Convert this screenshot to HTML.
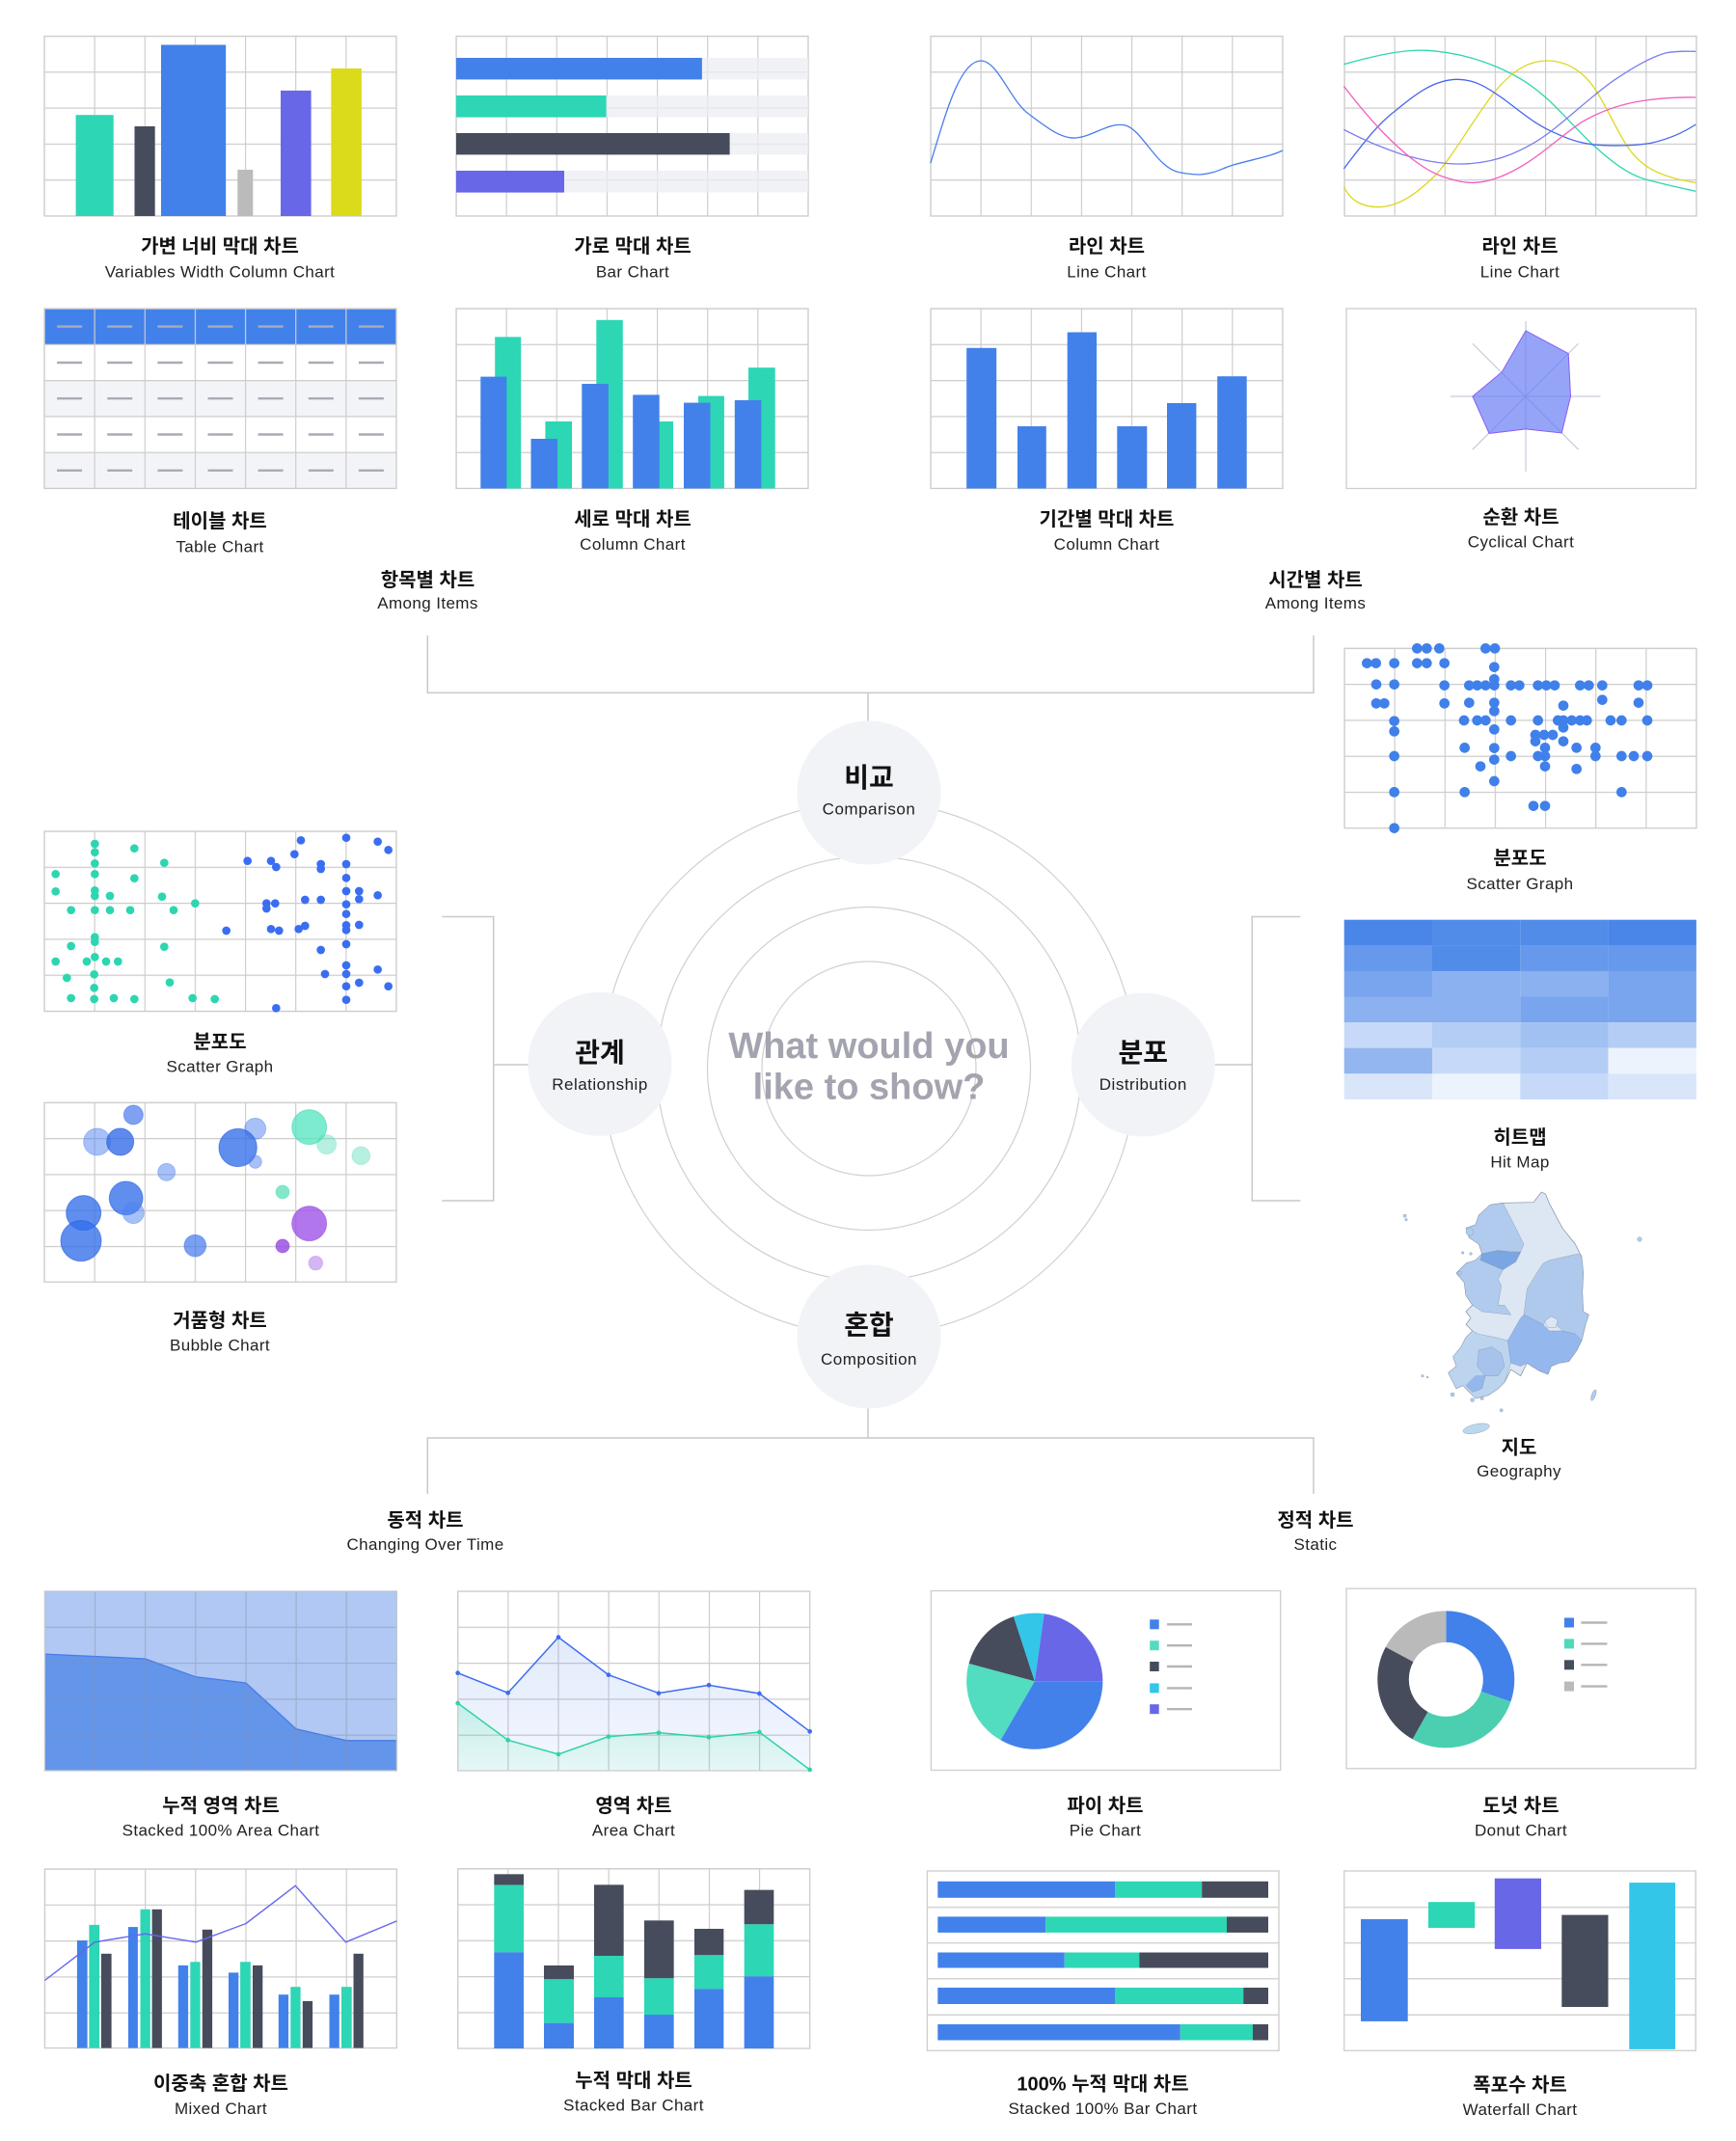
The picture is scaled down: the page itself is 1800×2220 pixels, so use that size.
<!DOCTYPE html>
<html><head><meta charset="utf-8">
<style>
html,body{margin:0;padding:0;background:#fff;}
svg{display:block;}
.k{font-family:"Liberation Sans","Noto Sans CJK KR",sans-serif;font-weight:700;font-size:20px;fill:#111;text-anchor:middle;}
.e{font-family:"Liberation Sans","Noto Sans CJK KR",sans-serif;font-size:17px;fill:#222;text-anchor:middle;letter-spacing:0.4px;}
.nk{font-family:"Liberation Sans","Noto Sans CJK KR",sans-serif;font-weight:700;font-size:28px;fill:#111;text-anchor:middle;}
.ne{font-family:"Liberation Sans","Noto Sans CJK KR",sans-serif;font-size:17px;fill:#222;text-anchor:middle;letter-spacing:0.5px;}
.ct{font-family:"Liberation Sans",sans-serif;font-weight:700;font-size:38px;fill:#a3a4af;text-anchor:middle;}
</style></head>
<body>
<svg width="1800" height="2220" viewBox="0 0 1800 2220" xmlns="http://www.w3.org/2000/svg">
<defs>
<pattern id="g" x="-0.6" y="-0.6" width="52.143" height="37.3" patternUnits="userSpaceOnUse"><path d="M0 0H53M0 0V38" stroke="#cdcdcd" stroke-width="2.4" fill="none"/></pattern>
<pattern id="g2" x="-0.6" y="-0.6" width="52.143" height="37.3" patternUnits="userSpaceOnUse"><path d="M0 0H53M0 0V38" stroke="rgba(140,140,160,0.45)" stroke-width="2.4" fill="none"/></pattern>
<linearGradient id="ab" x1="0" y1="0" x2="0" y2="1"><stop offset="0" stop-color="#e2ebfc"/><stop offset="1" stop-color="#f3f7fe"/></linearGradient>
<linearGradient id="at" x1="0" y1="0" x2="0" y2="1"><stop offset="0" stop-color="#c5eee8"/><stop offset="1" stop-color="#e6f7f7"/></linearGradient>
</defs>

<!-- ============ TOP ROW ============ -->
<!-- A: variable width column -->
<g transform="translate(46,37.5)"><rect width="365" height="186.5" fill="url(#g)"/><rect width="365" height="186.5" fill="none" stroke="#cdcdcd" stroke-width="1.3"/></g>
<rect x="78.6" y="119.2" width="39.1" height="104.8" fill="#2dd6b4"/>
<rect x="139.5" y="131" width="21.2" height="93" fill="#474c5c"/>
<rect x="167" y="46.5" width="67.2" height="177.5" fill="#4281ea"/>
<rect x="246.3" y="176" width="16" height="48" fill="#bbbbbb"/>
<rect x="291" y="93.9" width="31.6" height="130.1" fill="#6767e8"/>
<rect x="343.3" y="71" width="31.6" height="153" fill="#dbdb1c"/>
<text class="k" x="228" y="262">가변 너비 막대 차트</text>
<text class="e" x="228" y="287.5">Variables Width Column Chart</text>

<!-- B: bar chart -->
<g transform="translate(473,37.5)"><rect width="365" height="186.5" fill="url(#g)"/><rect width="365" height="186.5" fill="none" stroke="#cdcdcd" stroke-width="1.3"/></g>
<g fill="rgba(236,238,243,0.75)">
<rect x="473" y="60" width="365" height="22.4"/><rect x="473" y="99" width="365" height="22.6"/><rect x="473" y="138" width="365" height="22.4"/><rect x="473" y="177" width="365" height="22.6"/>
</g>
<rect x="473" y="60" width="254.9" height="22.4" fill="#4281ea"/>
<rect x="473" y="99" width="155.6" height="22.6" fill="#2dd6b4"/>
<rect x="473" y="138" width="283.6" height="22.4" fill="#474c5c"/>
<rect x="473" y="177" width="112" height="22.6" fill="#6767e8"/>
<text class="k" x="656" y="262">가로 막대 차트</text>
<text class="e" x="656" y="287.5">Bar Chart</text>

<!-- C: line chart -->
<g transform="translate(965,37.5)"><rect width="365" height="186.5" fill="url(#g)"/><rect width="365" height="186.5" fill="none" stroke="#cdcdcd" stroke-width="1.3"/></g>
<path d="M964.9,169 C980,120 995,62 1017.7,63 C1035,64 1048,105 1066.5,118 C1085,132 1100,144 1115.3,143 C1135,141 1150,126 1167,130 C1185,135 1200,176 1224.3,179 C1235,181 1240,181 1244.4,181 C1260,180 1268,174 1278.9,171 C1300,165 1318,162 1330,156" fill="none" stroke="#4a7cf0" stroke-width="1.3"/>
<text class="k" x="1147.5" y="262">라인 차트</text>
<text class="e" x="1147.5" y="287.5">Line Chart</text>

<!-- D: multi line chart -->
<g transform="translate(1394,37.5)"><rect width="365" height="186.5" fill="url(#g)"/><rect width="365" height="186.5" fill="none" stroke="#cdcdcd" stroke-width="1.3"/></g>
<g transform="translate(1380,20) scale(0.33333)" fill="none" stroke-width="3.9">
<path d="M40,140 C120,118 220,92 300,97 C380,102 450,120 520,150 C590,180 630,210 670,245 C720,290 770,350 820,395 C870,440 920,480 975,497 C1040,515 1090,525 1135,535" stroke="#2fd6b0"/>
<path d="M40,520 C60,565 100,585 150,584 C220,582 280,530 330,480 C390,410 450,300 510,225 C560,165 610,130 670,129 C740,128 790,170 820,215 C860,275 890,350 925,400 C960,450 1010,490 1135,508" stroke="#dcd820"/>
<path d="M40,465 C90,400 140,330 200,285 C260,235 320,187 395,187 C450,187 490,215 540,250 C600,295 640,330 700,355 C750,378 790,390 850,392 C900,394 960,392 1000,384 C1060,370 1100,350 1135,327" stroke="#4466ee"/>
<path d="M40,343 C100,375 160,400 220,420 C290,440 340,450 400,450 C460,450 510,440 560,420 C620,395 660,370 720,320 C780,270 830,225 880,190 C940,150 990,120 1040,105 C1080,97 1110,100 1135,100" stroke="#7a7ef0"/>
<path d="M40,208 C80,260 120,310 170,360 C230,420 290,470 350,490 C390,503 420,510 450,508 C500,505 560,480 620,440 C680,400 720,360 780,320 C840,285 900,265 960,255 C1020,245 1080,242 1135,243" stroke="#f060c0"/>
</g>
<text class="k" x="1576" y="262">라인 차트</text>
<text class="e" x="1576" y="287.5">Line Chart</text>

<!-- ============ ROW 2 ============ -->
<!-- Table chart -->
<rect x="46" y="320" width="365" height="37.3" fill="#4281ea"/>
<rect x="46" y="394.6" width="365" height="37.3" fill="#f3f4f8"/>
<rect x="46" y="469.2" width="365" height="37.3" fill="#f3f4f8"/>
<g transform="translate(46,320)"><rect width="365" height="186.5" fill="url(#g)"/><rect width="365" height="186.5" fill="none" stroke="#cdcdcd" stroke-width="1.3"/></g>
<g stroke="#a9acb6" stroke-width="2.4">
<path d="M59.1,338.6h26M111.2,338.6h26M163.4,338.6h26M215.5,338.6h26M267.6,338.6h26M319.8,338.6h26M371.9,338.6h26"/>
<path d="M59.1,376h26M111.2,376h26M163.4,376h26M215.5,376h26M267.6,376h26M319.8,376h26M371.9,376h26"/>
<path d="M59.1,413.2h26M111.2,413.2h26M163.4,413.2h26M215.5,413.2h26M267.6,413.2h26M319.8,413.2h26M371.9,413.2h26"/>
<path d="M59.1,450.5h26M111.2,450.5h26M163.4,450.5h26M215.5,450.5h26M267.6,450.5h26M319.8,450.5h26M371.9,450.5h26"/>
<path d="M59.1,487.8h26M111.2,487.8h26M163.4,487.8h26M215.5,487.8h26M267.6,487.8h26M319.8,487.8h26M371.9,487.8h26"/>
</g>
<text class="k" x="228" y="547">테이블 차트</text>
<text class="e" x="228" y="572.5">Table Chart</text>

<!-- Column chart (pairs) -->
<g transform="translate(473,320)"><rect width="365" height="186.5" fill="url(#g)"/><rect width="365" height="186.5" fill="none" stroke="#cdcdcd" stroke-width="1.3"/></g>
<g fill="#2dd6b4">
<rect x="513.2" y="349.4" width="27" height="157.1"/>
<rect x="565.4" y="437" width="27.6" height="69.5"/>
<rect x="618.3" y="331.8" width="27.5" height="174.7"/>
<rect x="671" y="437" width="27" height="69.5"/>
<rect x="724" y="410.6" width="26.9" height="95.9"/>
<rect x="776" y="381.2" width="27.7" height="125.3"/>
</g>
<g fill="#4281ea">
<rect x="498.3" y="390.6" width="27" height="115.9"/>
<rect x="550.5" y="455" width="27.5" height="51.5"/>
<rect x="603.3" y="398" width="27.6" height="108.5"/>
<rect x="656.2" y="409.4" width="27.5" height="97.1"/>
<rect x="709" y="417.6" width="27.5" height="88.9"/>
<rect x="761.8" y="415" width="27.5" height="91.5"/>
</g>
<text class="k" x="656" y="545">세로 막대 차트</text>
<text class="e" x="656" y="570">Column Chart</text>

<!-- Period column chart -->
<g transform="translate(965,320)"><rect width="365" height="186.5" fill="url(#g)"/><rect width="365" height="186.5" fill="none" stroke="#cdcdcd" stroke-width="1.3"/></g>
<g fill="#4281ea">
<rect x="1002.2" y="360.8" width="31" height="145.7"/>
<rect x="1055" y="442" width="29.8" height="64.5"/>
<rect x="1106.7" y="344.5" width="30.4" height="162"/>
<rect x="1158.3" y="442" width="31" height="64.5"/>
<rect x="1210" y="418" width="30.4" height="88.5"/>
<rect x="1262.2" y="390.2" width="30.5" height="116.3"/>
</g>
<text class="k" x="1147.5" y="545">기간별 막대 차트</text>
<text class="e" x="1147.5" y="570">Column Chart</text>

<!-- Radar -->
<rect x="1396" y="320" width="362.5" height="186.5" fill="#fff" stroke="#cdcdcd" stroke-width="1.3"/>
<g stroke="#b8c2d8" stroke-width="1">
<path d="M1504,411H1659.5M1582,333V489M1526.9,356.3L1636.5,466.1M1636.5,356.3L1526.9,466.1"/>
</g>
<polygon points="1582,342.9 1626.2,366.5 1628.5,411 1619.3,449 1582,444.9 1544.1,449.4 1526.9,411 1557.3,385.7" fill="rgba(105,125,245,0.7)" stroke="#8b5cf6" stroke-width="1"/>
<text class="k" x="1577" y="543">순환 차트</text>
<text class="e" x="1577" y="567.5">Cyclical Chart</text>

<!-- group labels top -->
<text class="k" x="443.5" y="608">항목별 차트</text>
<text class="e" x="443.5" y="631">Among Items</text>
<text class="k" x="1364" y="608">시간별 차트</text>
<text class="e" x="1364" y="631">Among Items</text>

<!-- ============ CONNECTORS ============ -->
<g fill="none" stroke="#c9c9c9" stroke-width="1.5">
<path d="M443.3,659V718.4H1362V659M900,718.4V750"/>
<path d="M443.3,1549V1491H1362V1549M900,1458V1491"/>
<path d="M458.3,950.5H511.7V1245H458.3M511.7,1104H550"/>
<path d="M1348.3,950.5H1298.3V1245H1348.3M1257,1104H1298.3"/>
</g>
<!-- rings -->
<g fill="none" stroke="#d0d0d0" stroke-width="1.2">
<circle cx="901" cy="1108" r="111"/>
<circle cx="901" cy="1108" r="167.5"/>
<circle cx="901" cy="1108" r="220"/>
<circle cx="901" cy="1108" r="277"/>
</g>
<g fill="#f2f3f7">
<circle cx="901" cy="822" r="74.5"/>
<circle cx="622" cy="1103.3" r="74.5"/>
<circle cx="1185.3" cy="1104" r="74.5"/>
<circle cx="901" cy="1386" r="74.5"/>
</g>
<text class="nk" x="901" y="816">비교</text>
<text class="ne" x="901" y="844.6">Comparison</text>
<text class="nk" x="622" y="1101">관계</text>
<text class="ne" x="622" y="1130">Relationship</text>
<text class="nk" x="1185.3" y="1101">분포</text>
<text class="ne" x="1185.3" y="1130">Distribution</text>
<text class="nk" x="901" y="1383.5">혼합</text>
<text class="ne" x="901" y="1415">Composition</text>
<text class="ct" x="901" y="1097">What would you</text>
<text class="ct" x="901" y="1139.4">like to show?</text>

<!-- ============ LEFT: scatter ============ -->
<g transform="translate(46,862)"><rect width="365" height="186.7" fill="url(#g)"/><rect width="365" height="186.7" fill="none" stroke="#cdcdcd" stroke-width="1.3"/></g>
<g transform="translate(0,840) scale(0.33333)">
<g fill="#2dd6b0">
<circle cx="295" cy="105" r="13"/><circle cx="295" cy="131" r="13"/><circle cx="418" cy="119" r="13"/><circle cx="295" cy="166" r="13"/><circle cx="511" cy="164" r="13"/><circle cx="173" cy="199" r="13"/><circle cx="295" cy="199" r="13"/><circle cx="418" cy="212" r="13"/><circle cx="173" cy="253" r="13"/><circle cx="295" cy="250" r="13"/><circle cx="295" cy="267" r="13"/><circle cx="342" cy="267" r="13"/><circle cx="504" cy="269" r="13"/><circle cx="607" cy="290" r="13"/><circle cx="221" cy="311" r="13"/><circle cx="295" cy="311" r="13"/><circle cx="342" cy="311" r="13"/><circle cx="405" cy="311" r="13"/><circle cx="540" cy="311" r="13"/><circle cx="295" cy="395" r="13"/><circle cx="295" cy="410" r="13"/><circle cx="221" cy="423" r="13"/><circle cx="511" cy="425" r="13"/><circle cx="173" cy="471" r="13"/><circle cx="270" cy="471" r="13"/><circle cx="295" cy="457" r="13"/><circle cx="330" cy="471" r="13"/><circle cx="367" cy="471" r="13"/><circle cx="208" cy="522" r="13"/><circle cx="293" cy="511" r="13"/><circle cx="528" cy="536" r="13"/><circle cx="293" cy="553" r="13"/><circle cx="221" cy="585" r="13"/><circle cx="293" cy="588" r="13"/><circle cx="354" cy="585" r="13"/><circle cx="418" cy="588" r="13"/><circle cx="599" cy="585" r="13"/><circle cx="668" cy="588" r="13"/>
</g>
<g fill="#3a6ef2">
<circle cx="936" cy="94" r="13"/><circle cx="1077" cy="86" r="13"/><circle cx="1175" cy="98" r="13"/><circle cx="1208" cy="124" r="13"/><circle cx="916" cy="137" r="13"/><circle cx="770" cy="158" r="13"/><circle cx="843" cy="158" r="13"/><circle cx="859" cy="177" r="13"/><circle cx="998" cy="168" r="13"/><circle cx="998" cy="183" r="13"/><circle cx="1077" cy="168" r="13"/><circle cx="1077" cy="211" r="13"/><circle cx="1077" cy="252" r="13"/><circle cx="1117" cy="252" r="13"/><circle cx="1117" cy="277" r="13"/><circle cx="1175" cy="265" r="13"/><circle cx="949" cy="279" r="13"/><circle cx="998" cy="279" r="13"/><circle cx="829" cy="290" r="13"/><circle cx="856" cy="290" r="13"/><circle cx="829" cy="306" r="13"/><circle cx="1077" cy="293" r="13"/><circle cx="1077" cy="323" r="13"/><circle cx="704" cy="375" r="13"/><circle cx="843" cy="370" r="13"/><circle cx="868" cy="375" r="13"/><circle cx="929" cy="370" r="13"/><circle cx="949" cy="360" r="13"/><circle cx="1077" cy="358" r="13"/><circle cx="1077" cy="373" r="13"/><circle cx="1117" cy="357" r="13"/><circle cx="998" cy="435" r="13"/><circle cx="1077" cy="417" r="13"/><circle cx="1077" cy="483" r="13"/><circle cx="1175" cy="496" r="13"/><circle cx="1011" cy="510" r="13"/><circle cx="1077" cy="510" r="13"/><circle cx="1117" cy="537" r="13"/><circle cx="1077" cy="548" r="13"/><circle cx="1208" cy="548" r="13"/><circle cx="1077" cy="590" r="13"/><circle cx="859" cy="616" r="13"/>
</g>
</g>
<text class="k" x="228" y="1087">분포도</text>
<text class="e" x="228" y="1111.7">Scatter Graph</text>

<!-- Bubble -->
<g transform="translate(46,1143.3)"><rect width="365" height="186" fill="url(#g)"/><rect width="365" height="186" fill="none" stroke="#cdcdcd" stroke-width="1.3"/></g>
<g transform="translate(0,840) scale(0.33333)" stroke-width="3">
<circle cx="415" cy="948" r="30" fill="rgba(60,110,235,0.65)" stroke="rgba(60,110,235,0.5)"/>
<circle cx="302" cy="1032" r="42" fill="rgba(80,130,240,0.5)" stroke="rgba(80,130,240,0.4)"/>
<circle cx="374" cy="1032" r="42" fill="rgba(50,105,232,0.78)" stroke="rgba(40,90,220,0.6)"/>
<circle cx="518" cy="1126" r="27" fill="rgba(80,130,240,0.5)" stroke="rgba(80,130,240,0.4)"/>
<circle cx="794" cy="991" r="33" fill="rgba(80,130,240,0.5)" stroke="rgba(80,130,240,0.4)"/>
<circle cx="740" cy="1050" r="59" fill="rgba(50,110,235,0.78)" stroke="rgba(40,90,220,0.6)"/>
<circle cx="794" cy="1094" r="20" fill="rgba(80,130,240,0.5)" stroke="rgba(80,130,240,0.4)"/>
<circle cx="962" cy="986" r="54" fill="rgba(80,228,190,0.75)" stroke="rgba(60,210,170,0.5)"/>
<circle cx="1016" cy="1040" r="30" fill="rgba(80,220,180,0.42)" stroke="rgba(80,220,180,0.3)"/>
<circle cx="1123" cy="1075" r="28" fill="rgba(80,220,180,0.42)" stroke="rgba(80,220,180,0.3)"/>
<circle cx="879" cy="1188" r="21" fill="rgba(80,220,180,0.7)" stroke="rgba(80,220,180,0.4)"/>
<circle cx="392" cy="1207" r="52" fill="rgba(50,110,235,0.78)" stroke="rgba(40,90,220,0.6)"/>
<circle cx="415" cy="1253" r="33" fill="rgba(80,130,240,0.5)" stroke="rgba(80,130,240,0.4)"/>
<circle cx="260" cy="1253" r="54" fill="rgba(50,110,235,0.78)" stroke="rgba(40,90,220,0.6)"/>
<circle cx="252" cy="1340" r="63" fill="rgba(50,110,235,0.78)" stroke="rgba(40,90,220,0.6)"/>
<circle cx="607" cy="1355" r="34" fill="rgba(60,115,235,0.68)" stroke="rgba(60,110,235,0.5)"/>
<circle cx="962" cy="1286" r="54" fill="rgba(155,80,230,0.78)" stroke="rgba(140,70,220,0.5)"/>
<circle cx="879" cy="1356" r="21" fill="rgba(150,70,225,0.8)" stroke="rgba(140,70,220,0.5)"/>
<circle cx="982" cy="1409" r="22" fill="rgba(170,110,235,0.5)" stroke="rgba(170,110,235,0.3)"/>
</g>
<text class="k" x="228" y="1376">거품형 차트</text>
<text class="e" x="228" y="1400.6">Bubble Chart</text>

<!-- ============ RIGHT: scatter ============ -->
<g transform="translate(1394,672.3)"><rect width="365" height="186.4" fill="url(#g)"/><rect width="365" height="186.4" fill="none" stroke="#cdcdcd" stroke-width="1.3"/></g>
<g transform="translate(1280,640) scale(0.33333)" fill="#4080ea">
<circle cx="568" cy="97" r="16"/><circle cx="598" cy="97" r="16"/><circle cx="637" cy="97" r="16"/><circle cx="781" cy="97" r="16"/><circle cx="810" cy="97" r="16"/>
<circle cx="412" cy="143" r="16"/><circle cx="440" cy="143" r="16"/><circle cx="497" cy="143" r="16"/><circle cx="568" cy="143" r="16"/><circle cx="598" cy="143" r="16"/><circle cx="653" cy="143" r="16"/>
<circle cx="808" cy="155" r="16"/>
<circle cx="441" cy="209" r="16"/><circle cx="497" cy="209" r="16"/><circle cx="653" cy="212" r="16"/><circle cx="730" cy="212" r="16"/><circle cx="755" cy="212" r="16"/><circle cx="781" cy="212" r="16"/><circle cx="808" cy="212" r="16"/><circle cx="808" cy="193" r="16"/><circle cx="860" cy="212" r="16"/><circle cx="886" cy="212" r="16"/><circle cx="944" cy="212" r="16"/><circle cx="970" cy="212" r="16"/><circle cx="996" cy="212" r="16"/><circle cx="1075" cy="212" r="16"/><circle cx="1102" cy="212" r="16"/><circle cx="1144" cy="212" r="16"/><circle cx="1257" cy="212" r="16"/><circle cx="1284" cy="212" r="16"/>
<circle cx="441" cy="268" r="16"/><circle cx="466" cy="268" r="16"/><circle cx="653" cy="268" r="16"/><circle cx="730" cy="266" r="16"/><circle cx="808" cy="266" r="16"/><circle cx="808" cy="292" r="16"/><circle cx="1023" cy="275" r="16"/><circle cx="1144" cy="257" r="16"/><circle cx="1257" cy="266" r="16"/>
<circle cx="497" cy="323" r="16"/><circle cx="497" cy="355" r="16"/><circle cx="714" cy="321" r="16"/><circle cx="755" cy="321" r="16"/><circle cx="781" cy="321" r="16"/><circle cx="808" cy="349" r="16"/><circle cx="860" cy="321" r="16"/><circle cx="944" cy="321" r="16"/><circle cx="1006" cy="321" r="16"/><circle cx="1023" cy="321" r="16"/><circle cx="1049" cy="321" r="16"/><circle cx="1075" cy="321" r="16"/><circle cx="1096" cy="321" r="16"/><circle cx="1170" cy="321" r="16"/><circle cx="1204" cy="321" r="16"/><circle cx="1284" cy="321" r="16"/><circle cx="1023" cy="343" r="16"/>
<circle cx="936" cy="366" r="16"/><circle cx="963" cy="366" r="16"/><circle cx="990" cy="366" r="16"/><circle cx="936" cy="386" r="16"/><circle cx="1023" cy="386" r="16"/><circle cx="966" cy="406" r="16"/><circle cx="1064" cy="406" r="16"/><circle cx="1123" cy="406" r="16"/><circle cx="716" cy="406" r="16"/><circle cx="808" cy="407" r="16"/>
<circle cx="497" cy="432" r="16"/><circle cx="808" cy="443" r="16"/><circle cx="860" cy="432" r="16"/><circle cx="944" cy="432" r="16"/><circle cx="966" cy="432" r="16"/><circle cx="1123" cy="432" r="16"/><circle cx="1204" cy="432" r="16"/><circle cx="1242" cy="432" r="16"/><circle cx="1284" cy="432" r="16"/>
<circle cx="765" cy="464" r="16"/><circle cx="966" cy="464" r="16"/><circle cx="1064" cy="472" r="16"/>
<circle cx="808" cy="510" r="16"/><circle cx="497" cy="544" r="16"/><circle cx="716" cy="544" r="16"/><circle cx="1204" cy="544" r="16"/>
<circle cx="930" cy="587" r="16"/><circle cx="966" cy="587" r="16"/>
<circle cx="497" cy="656" r="16"/>
</g>
<text class="k" x="1576" y="896.3">분포도</text>
<text class="e" x="1576" y="922">Scatter Graph</text>

<!-- Heat map -->
<g>
<rect x="1393.7" y="953.7" width="91.3" height="26.7" fill="#4a86e8"/><rect x="1485" y="953.7" width="91.3" height="26.7" fill="#528ce9"/><rect x="1576.3" y="953.7" width="91.3" height="26.7" fill="#528ce9"/><rect x="1667.6" y="953.7" width="91.3" height="26.7" fill="#4a86e8"/>
<rect x="1393.7" y="980.3" width="91.3" height="26.7" fill="#6699eb"/><rect x="1485" y="980.3" width="91.3" height="26.7" fill="#528ce9"/><rect x="1576.3" y="980.3" width="91.3" height="26.7" fill="#6699eb"/><rect x="1667.6" y="980.3" width="91.3" height="26.7" fill="#6699eb"/>
<rect x="1393.7" y="1006.9" width="91.3" height="26.7" fill="#79a5ee"/><rect x="1485" y="1006.9" width="91.3" height="26.7" fill="#8bb1f0"/><rect x="1576.3" y="1006.9" width="91.3" height="26.7" fill="#8bb1f0"/><rect x="1667.6" y="1006.9" width="91.3" height="26.7" fill="#79a5ee"/>
<rect x="1393.7" y="1033.5" width="91.3" height="26.7" fill="#8bb1f0"/><rect x="1485" y="1033.5" width="91.3" height="26.7" fill="#8bb1f0"/><rect x="1576.3" y="1033.5" width="91.3" height="26.7" fill="#79a5ee"/><rect x="1667.6" y="1033.5" width="91.3" height="26.7" fill="#79a5ee"/>
<rect x="1393.7" y="1060.1" width="91.3" height="26.7" fill="#c6d9f8"/><rect x="1485" y="1060.1" width="91.3" height="26.7" fill="#b3cdf5"/><rect x="1576.3" y="1060.1" width="91.3" height="26.7" fill="#a1c1f3"/><rect x="1667.6" y="1060.1" width="91.3" height="26.7" fill="#b3cdf5"/>
<rect x="1393.7" y="1086.7" width="91.3" height="26.7" fill="#93b6f1"/><rect x="1485" y="1086.7" width="91.3" height="26.7" fill="#c6d9f8"/><rect x="1576.3" y="1086.7" width="91.3" height="26.7" fill="#b3cdf5"/><rect x="1667.6" y="1086.7" width="91.3" height="26.7" fill="#edf3fd"/>
<rect x="1393.7" y="1113.3" width="91.3" height="26.7" fill="#d9e6fa"/><rect x="1485" y="1113.3" width="91.3" height="26.7" fill="#edf3fd"/><rect x="1576.3" y="1113.3" width="91.3" height="26.7" fill="#c6d9f8"/><rect x="1667.6" y="1113.3" width="91.3" height="26.7" fill="#d9e6fa"/>
</g>
<text class="k" x="1576" y="1186">히트맵</text>
<text class="e" x="1576" y="1210.6">Hit Map</text>

<!-- Map -->
<g transform="translate(1420,1220) scale(0.33333)" stroke="#7f8aa0" stroke-width="2" stroke-linejoin="round">
<polygon points="375,88 415,82 510,80 535,48 548,55 560,85 600,160 640,210 660,250 665,300 662,360 665,420 682,430 672,460 660,510 645,540 620,575 590,580 565,590 555,615 530,605 505,590 490,580 470,620 440,600 420,640 400,660 370,680 330,690 310,670 290,650 270,660 255,630 245,610 270,590 260,560 285,530 300,500 320,480 300,460 315,440 300,420 320,400 300,370 295,330 270,300 300,270 330,260 350,240 340,210 310,190 300,160 330,150 340,120" fill="#dce7f3"/>
<polygon points="375,88 415,82 440,130 480,210 470,235 400,230 350,240 340,210 310,190 300,160 330,150 340,120" fill="#b0cbee" stroke-width="1"/>
<polygon points="350,240 400,230 440,235 470,235 455,265 415,290 380,275 345,260" fill="#7aa6e3" stroke-width="1"/>
<polygon points="300,270 330,260 350,240 345,260 380,275 415,290 400,320 410,340 400,400 420,400 440,430 350,420 320,400 300,370 295,330 270,300" fill="#b0cbee" stroke-width="1"/>
<polygon points="540,270 560,260 650,240 660,250 665,300 662,360 665,420 682,430 672,460 660,510 640,490 600,480 580,460 560,440 540,460 520,450 480,430 490,350 520,300" fill="#afc9ec" stroke-width="1"/>
<polygon points="545,450 565,435 585,445 580,470 555,470" fill="#dce7f3" stroke-width="1"/>
<polygon points="480,430 520,450 540,460 560,480 600,480 640,490 660,510 645,540 620,575 590,580 565,590 555,615 530,605 505,590 490,580 470,590 440,580 430,510 470,440" fill="#94b8ee" stroke-width="1"/>
<polygon points="320,480 340,490 390,500 430,510 440,580 420,640 400,660 370,680 330,690 310,670 290,650 270,660 255,630 245,610 270,590 260,560 285,530 300,500" fill="#bcd4ee" stroke-width="1"/>
<polygon points="340,540 380,530 410,550 420,590 400,620 360,620 335,590" fill="#a7c3ec" stroke-width="1"/>
<polygon points="330,620 360,620 350,660 320,670 300,650" fill="#94b8ee" stroke-width="1"/>
<ellipse cx="332" cy="784" rx="42" ry="14" transform="rotate(-12 332 784)" fill="#bcd8ee" stroke-width="1"/>
<circle cx="840" cy="195" r="7" fill="#b0cbee" stroke-width="1"/>
<circle cx="110" cy="122" r="5" fill="#b0cbee" stroke-width="1"/>
<circle cx="114" cy="134" r="4" fill="#b0cbee" stroke-width="1"/>
<ellipse cx="697" cy="680" rx="6" ry="18" transform="rotate(20 697 680)" fill="#b0cbee" stroke-width="1"/>
<circle cx="410" cy="727" r="5" fill="#b0cbee" stroke-width="1"/>
<circle cx="258" cy="678" r="6" fill="#b0cbee" stroke-width="1"/>
<circle cx="320" cy="695" r="6" fill="#b0cbee" stroke-width="1"/>
<circle cx="350" cy="690" r="5" fill="#b0cbee" stroke-width="1"/>
<circle cx="312" cy="172" r="12" fill="#b0cbee" stroke-width="1"/>
<circle cx="290" cy="237" r="4" fill="#b0cbee" stroke-width="1"/>
<circle cx="315" cy="240" r="4" fill="#b0cbee" stroke-width="1"/>
<circle cx="280" cy="300" r="6" fill="#b0cbee" stroke-width="1"/>
<circle cx="165" cy="620" r="4" fill="#b0cbee" stroke-width="1"/>
<circle cx="180" cy="624" r="3" fill="#b0cbee" stroke-width="1"/>
</g>
<text class="k" x="1575" y="1507.7">지도</text>
<text class="e" x="1575" y="1531">Geography</text>

<!-- group labels bottom -->
<text class="k" x="441" y="1583">동적 차트</text>
<text class="e" x="441" y="1607">Changing Over Time</text>
<text class="k" x="1364" y="1583">정적 차트</text>
<text class="e" x="1364" y="1607">Static</text>

<!-- ============ BOTTOM ROW 1 ============ -->
<!-- Stacked area -->
<rect x="46.4" y="1650" width="365" height="186" fill="#b0c8f3"/>
<polygon points="46.4,1715.1 150.4,1720 203.1,1738.8 254.9,1745 307.1,1792.8 359.4,1804.8 411.4,1804.8 411.4,1836 46.4,1836" fill="#6395ea"/>
<polyline points="46.4,1715.1 150.4,1720 203.1,1738.8 254.9,1745 307.1,1792.8 359.4,1804.8 411.4,1804.8" fill="none" stroke="#4a7be8" stroke-width="1.3"/>
<g transform="translate(46.4,1650)"><rect width="365" height="186" fill="url(#g2)"/><rect width="365" height="186" fill="none" stroke="#c4c9d6" stroke-width="1.3"/></g>
<text class="k" x="229" y="1879">누적 영역 차트</text>
<text class="e" x="229" y="1903.7">Stacked 100% Area Chart</text>

<!-- Area chart -->
<g transform="translate(440,1640) scale(0.33333)">
<polygon points="104,284 260,346 417,173 573,290 729,347 885,322 1042,348 1199,466 1199,588 104,588" fill="url(#ab)"/>
<polygon points="104,378 260,493 417,537 573,482 729,470 885,484 1042,468 1199,585 1199,588 104,588" fill="url(#at)"/>
</g>
<g transform="translate(474.7,1650)"><rect width="365" height="186" fill="url(#g2)"/><rect width="365" height="186" fill="none" stroke="#cdcdcd" stroke-width="1.3"/></g>
<g transform="translate(440,1640) scale(0.33333)">
<polyline points="104,284 260,346 417,173 573,290 729,347 885,322 1042,348 1199,466" fill="none" stroke="#3d6cf0" stroke-width="4.5"/>
<polyline points="104,378 260,493 417,537 573,482 729,470 885,484 1042,468 1199,585" fill="none" stroke="#2fd3a5" stroke-width="4.5"/>
<g fill="#3d6cf0"><circle cx="104" cy="284" r="7"/><circle cx="260" cy="346" r="7"/><circle cx="417" cy="173" r="7"/><circle cx="573" cy="290" r="7"/><circle cx="729" cy="347" r="7"/><circle cx="885" cy="322" r="7"/><circle cx="1042" cy="348" r="7"/><circle cx="1199" cy="466" r="7"/></g>
<g fill="#2fd3a5"><circle cx="104" cy="378" r="7"/><circle cx="260" cy="493" r="7"/><circle cx="417" cy="537" r="7"/><circle cx="573" cy="482" r="7"/><circle cx="729" cy="470" r="7"/><circle cx="885" cy="484" r="7"/><circle cx="1042" cy="468" r="7"/><circle cx="1199" cy="585" r="7"/></g>
</g>
<text class="k" x="657" y="1879">영역 차트</text>
<text class="e" x="657" y="1903.7">Area Chart</text>

<!-- Pie chart -->
<rect x="965.4" y="1649.5" width="362.3" height="186" fill="#fff" stroke="#cdcdcd" stroke-width="1.3"/>
<path d="M1072.8,1743.2 L1082.6,1673.3 A70.6,70.6 0 0 1 1143.4,1743.2 Z" fill="#6767e8"/>
<path d="M1072.8,1743.2 L1143.4,1743.2 A70.6,70.6 0 0 1 1037.5,1804.3 Z" fill="#4281ea"/>
<path d="M1072.8,1743.2 L1037.5,1804.3 A70.6,70.6 0 0 1 1004.6,1724.9 Z" fill="#52dcc0"/>
<path d="M1072.8,1743.2 L1004.6,1724.9 A70.6,70.6 0 0 1 1051,1676.1 Z" fill="#474c5c"/>
<path d="M1072.8,1743.2 L1051,1676.1 A70.6,70.6 0 0 1 1082.6,1673.3 Z" fill="#33c6e8"/>
<rect x="1192.2" y="1679.3" width="9.5" height="10" fill="#4281ea"/>
<rect x="1192.2" y="1701.2" width="9.5" height="10" fill="#52dcc0"/>
<rect x="1192.2" y="1723" width="9.5" height="10" fill="#474c5c"/>
<rect x="1192.2" y="1745.4" width="9.5" height="10" fill="#33c6e8"/>
<rect x="1192.2" y="1767.2" width="9.5" height="10" fill="#6767e8"/>
<g stroke="#b5b5b5" stroke-width="2.4"><path d="M1210,1684.3h26M1210,1706.2h26M1210,1728h26M1210,1750.4h26M1210,1772.2h26"/></g>
<text class="k" x="1146" y="1879">파이 차트</text>
<text class="e" x="1146" y="1903.7">Pie Chart</text>

<!-- Donut chart -->
<rect x="1396" y="1647.2" width="362.2" height="186.6" fill="#fff" stroke="#cdcdcd" stroke-width="1.3"/>
<g fill="none" stroke-width="32.5" transform="rotate(-90 1499.3 1741.4)">
<circle cx="1499.3" cy="1741.4" r="54.75" stroke="#4281ea" stroke-dasharray="104.1 400" stroke-dashoffset="0"/>
<circle cx="1499.3" cy="1741.4" r="54.75" stroke="#4ccfb0" stroke-dasharray="95.65 400" stroke-dashoffset="-104.1"/>
<circle cx="1499.3" cy="1741.4" r="54.75" stroke="#474c5c" stroke-dasharray="85.05 400" stroke-dashoffset="-199.75"/>
<circle cx="1499.3" cy="1741.4" r="54.75" stroke="#bababa" stroke-dasharray="59.25 400" stroke-dashoffset="-284.8"/>
</g>
<rect x="1622" y="1677.5" width="10" height="10" fill="#4281ea"/>
<rect x="1622" y="1699.4" width="10" height="10" fill="#4ddab8"/>
<rect x="1622" y="1721.3" width="10" height="10" fill="#474c5c"/>
<rect x="1622" y="1743.6" width="10" height="10" fill="#bbbbbb"/>
<g stroke="#b5b5b5" stroke-width="2.4"><path d="M1639.4,1682.5h27M1639.4,1704.4h27M1639.4,1726.3h27M1639.4,1748.6h27"/></g>
<text class="k" x="1577" y="1879">도넛 차트</text>
<text class="e" x="1577" y="1903.7">Donut Chart</text>

<!-- ============ BOTTOM ROW 2 ============ -->
<!-- Mixed chart -->
<g transform="translate(46.4,1938)"><rect width="365" height="185.6" fill="url(#g)"/><rect width="365" height="185.6" fill="none" stroke="#cdcdcd" stroke-width="1.3"/></g>
<g fill="#4281ea">
<rect x="79.9" y="2012" width="10.7" height="111.6"/><rect x="133" y="1998.1" width="9.9" height="125.5"/><rect x="184.8" y="2037.9" width="10.3" height="85.7"/><rect x="237" y="2045.4" width="10.3" height="78.2"/><rect x="288.8" y="2068.2" width="10.3" height="55.4"/><rect x="341.5" y="2068.2" width="10.3" height="55.4"/>
</g>
<g fill="#2dd6b4">
<rect x="92.4" y="1995.9" width="10.7" height="127.7"/><rect x="145.5" y="1979.8" width="10.3" height="143.8"/><rect x="197.3" y="2034.3" width="10.3" height="89.3"/><rect x="249.1" y="2034.3" width="10.7" height="89.3"/><rect x="301.3" y="2060.2" width="10.3" height="63.4"/><rect x="354" y="2060.2" width="10.7" height="63.4"/>
</g>
<g fill="#474c5c">
<rect x="104.9" y="2025.8" width="10.7" height="97.8"/><rect x="157.6" y="1979.8" width="10.3" height="143.8"/><rect x="209.8" y="2000.8" width="10.3" height="122.8"/><rect x="262" y="2037.9" width="10.3" height="85.7"/><rect x="313.8" y="2074.9" width="10.3" height="48.7"/><rect x="366.5" y="2025.8" width="10.3" height="97.8"/>
</g>
<polyline points="46.4,2053.5 98.2,2013.8 150.4,2005.2 203.1,2013.8 254.9,1994.6 306.3,1955.3 358.5,2013.8 411.4,1991.9" fill="none" stroke="#6466ee" stroke-width="1.4"/>
<text class="k" x="229" y="2167">이중축 혼합 차트</text>
<text class="e" x="229" y="2192">Mixed Chart</text>

<!-- Stacked bar -->
<g transform="translate(474.7,1937.7)"><rect width="365" height="186.3" fill="url(#g)"/><rect width="365" height="186.3" fill="none" stroke="#cdcdcd" stroke-width="1.3"/></g>
<g transform="translate(440,1640) scale(0.33333)">
<rect x="217" y="910" width="92" height="34" fill="#474c5c"/><rect x="217" y="944" width="92" height="209" fill="#2dd6b4"/><rect x="217" y="1153" width="92" height="299" fill="#4281ea"/>
<rect x="372" y="1194" width="93" height="43" fill="#474c5c"/><rect x="372" y="1237" width="93" height="136" fill="#2dd6b4"/><rect x="372" y="1373" width="93" height="79" fill="#4281ea"/>
<rect x="528" y="943" width="92" height="221" fill="#474c5c"/><rect x="528" y="1164" width="92" height="129" fill="#2dd6b4"/><rect x="528" y="1293" width="92" height="159" fill="#4281ea"/>
<rect x="684" y="1054" width="92" height="180" fill="#474c5c"/><rect x="684" y="1234" width="92" height="113" fill="#2dd6b4"/><rect x="684" y="1347" width="92" height="105" fill="#4281ea"/>
<rect x="840" y="1080" width="91" height="82" fill="#474c5c"/><rect x="840" y="1162" width="91" height="105" fill="#2dd6b4"/><rect x="840" y="1267" width="91" height="185" fill="#4281ea"/>
<rect x="995" y="959" width="92" height="107" fill="#474c5c"/><rect x="995" y="1066" width="92" height="162" fill="#2dd6b4"/><rect x="995" y="1228" width="92" height="224" fill="#4281ea"/>
</g>
<text class="k" x="657" y="2164">누적 막대 차트</text>
<text class="e" x="657" y="2188.6">Stacked Bar Chart</text>

<!-- 100% stacked bar -->
<rect x="961.4" y="1940" width="364.6" height="186.3" fill="#fff" stroke="#cdcdcd" stroke-width="1.3"/>
<g stroke="#d4d4d4" stroke-width="1.5"><path d="M961.4,1977.6H1326M961.4,2014.6H1326M961.4,2051.7H1326M961.4,2089.2H1326"/></g>
<g>
<rect x="972.3" y="1950.8" width="183.7" height="17" fill="#4281ea"/><rect x="1156" y="1950.8" width="90.2" height="17" fill="#2dd6b4"/><rect x="1246.2" y="1950.8" width="68.8" height="17" fill="#474c5c"/>
<rect x="972.3" y="1987.4" width="112" height="16.5" fill="#4281ea"/><rect x="1084.3" y="1987.4" width="187.7" height="16.5" fill="#2dd6b4"/><rect x="1272" y="1987.4" width="43" height="16.5" fill="#474c5c"/>
<rect x="972.3" y="2024.5" width="131.5" height="16" fill="#4281ea"/><rect x="1103.8" y="2024.5" width="77.5" height="16" fill="#2dd6b4"/><rect x="1181.3" y="2024.5" width="133.7" height="16" fill="#474c5c"/>
<rect x="972.3" y="2061" width="183.7" height="17" fill="#4281ea"/><rect x="1156" y="2061" width="133.2" height="17" fill="#2dd6b4"/><rect x="1289.2" y="2061" width="25.8" height="17" fill="#474c5c"/>
<rect x="972.3" y="2099" width="251.5" height="16.5" fill="#4281ea"/><rect x="1223.8" y="2099" width="75.2" height="16.5" fill="#2dd6b4"/><rect x="1299" y="2099" width="16" height="16.5" fill="#474c5c"/>
</g>
<text class="k" x="1143.5" y="2167.6">100% 누적 막대 차트</text>
<text class="e" x="1143.5" y="2192">Stacked 100% Bar Chart</text>

<!-- Waterfall -->
<rect x="1393.7" y="1940" width="364.5" height="186.3" fill="#fff" stroke="#cdcdcd" stroke-width="1.3"/>
<g stroke="#d4d4d4" stroke-width="1.5"><path d="M1393.7,1977.6H1758.2M1393.7,2014.6H1758.2M1393.7,2051.7H1758.2M1393.7,2089.2H1758.2"/></g>
<rect x="1411" y="1990" width="48.7" height="105.9" fill="#4281ea"/>
<rect x="1481" y="1972.2" width="48.2" height="26.8" fill="#2dd6b4"/>
<rect x="1549.8" y="1947.7" width="48.2" height="73.2" fill="#6767e8"/>
<rect x="1619.3" y="1985.6" width="48.2" height="95.4" fill="#474c5c"/>
<rect x="1689.3" y="1952.1" width="47.7" height="172.8" fill="#33c6e8"/>
<text class="k" x="1576" y="2168.5">폭포수 차트</text>
<text class="e" x="1576" y="2193">Waterfall Chart</text>

</svg>
</body></html>
